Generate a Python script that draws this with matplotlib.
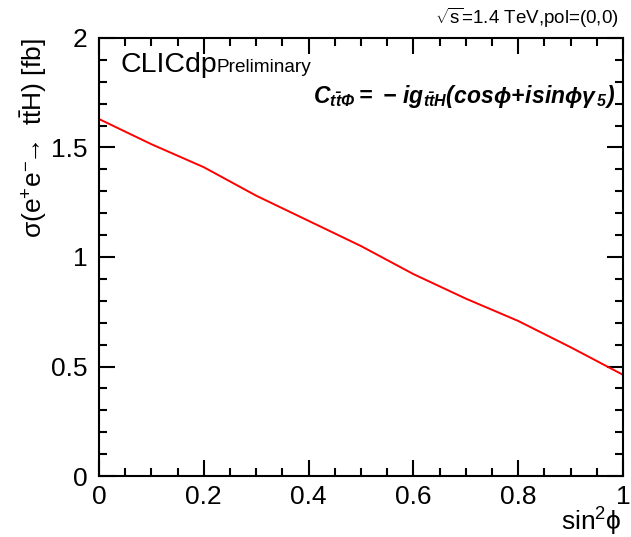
import numpy as np
import matplotlib
matplotlib.use("Agg")
import matplotlib.pyplot as plt
from matplotlib.ticker import MultipleLocator, FuncFormatter

# ROOT-like fonts
plt.rcParams['font.family'] = ['Liberation Sans', 'DejaVu Sans']
plt.rcParams['mathtext.fontset'] = 'custom'
plt.rcParams['mathtext.rm'] = 'Liberation Sans'
plt.rcParams['mathtext.it'] = 'Liberation Sans:italic'
plt.rcParams['mathtext.bf'] = 'Liberation Sans:bold'
plt.rcParams['mathtext.bfit'] = 'Liberation Sans:italic:bold'
plt.rcParams['mathtext.sf'] = 'Liberation Sans'

# data
sin2phi = [0.0, 0.1, 0.2, 0.3, 0.4, 0.5, 0.6, 0.7, 0.8, 0.9, 1.0]
xsec = [1.630, 1.515, 1.410, 1.280, 1.165, 1.050, 0.922, 0.810, 0.708, 0.588, 0.462]

x_ticks = [0, 0.2, 0.4, 0.6, 0.8, 1.0]
y_ticks = [0, 0.5, 1.0, 1.5, 2.0]

W, H = 631, 537
fig = plt.figure(figsize=(W / 100, H / 100), dpi=100)
ax = fig.add_axes([99 / W, 61 / H, 524 / W, 438 / H])

ax.plot(sin2phi, xsec, color='red', lw=1.4)

ax.set_xlim(0, 1)
ax.set_ylim(0, 2)
ax.set_xticks(x_ticks)
ax.set_yticks(y_ticks)
ax.xaxis.set_minor_locator(MultipleLocator(0.05))
ax.yaxis.set_minor_locator(MultipleLocator(0.1))
fmt = FuncFormatter(lambda v, p: '%g' % v)
ax.xaxis.set_major_formatter(fmt)
ax.yaxis.set_major_formatter(fmt)

for s in ax.spines.values():
    s.set_linewidth(1.5)
ax.tick_params(which='both', direction='in', top=True, right=True, width=1.5, labelsize=19)
ax.tick_params(which='major', length=11.5)
ax.tick_params(which='minor', length=5.5)
ax.tick_params(axis='x', which='major', pad=6.5)
ax.tick_params(axis='y', which='major', pad=8.5)

ax.set_ylabel(r'$\mathrm{\sigma}(\mathrm{e}^{+}\mathrm{e}^{-}\!\!\rightarrow\ \mathrm{t}\bar{\mathrm{t}}\mathrm{H})$ [fb]',
              fontsize=19, loc='top')
ax.yaxis.set_label_coords(-0.095, 1.0)
ax.set_xlabel(r'sin$^{2}\mathrm{\phi}$', fontsize=19, loc='right')
ax.xaxis.set_label_coords(0.998, -0.068)

fig.text(619 / W, 1 - 24 / H, r'$\sqrt{\mathrm{s}}$=1.4 TeV,pol=(0,0)', fontsize=13.5,
         ha='right', va='baseline')
fig.text(120 / W, 1 - 72 / H, 'CLICdp', fontsize=20.5, ha='left', va='baseline')
fig.text(217 / W, 1 - 72 / H, 'Preliminary', fontsize=13.7, ha='left', va='baseline')
fig.text(615 / W, 1 - 103 / H,
         r'$\mathbfit{C_{t\bar{t}\Phi}=\,-\,ig_{t\bar{t}H}(cos\phi\!+\!isin\phi\gamma_{\,5})}$',
         fontsize=16.5, ha='right', va='baseline')

fig.savefig('out.png', dpi=100)
